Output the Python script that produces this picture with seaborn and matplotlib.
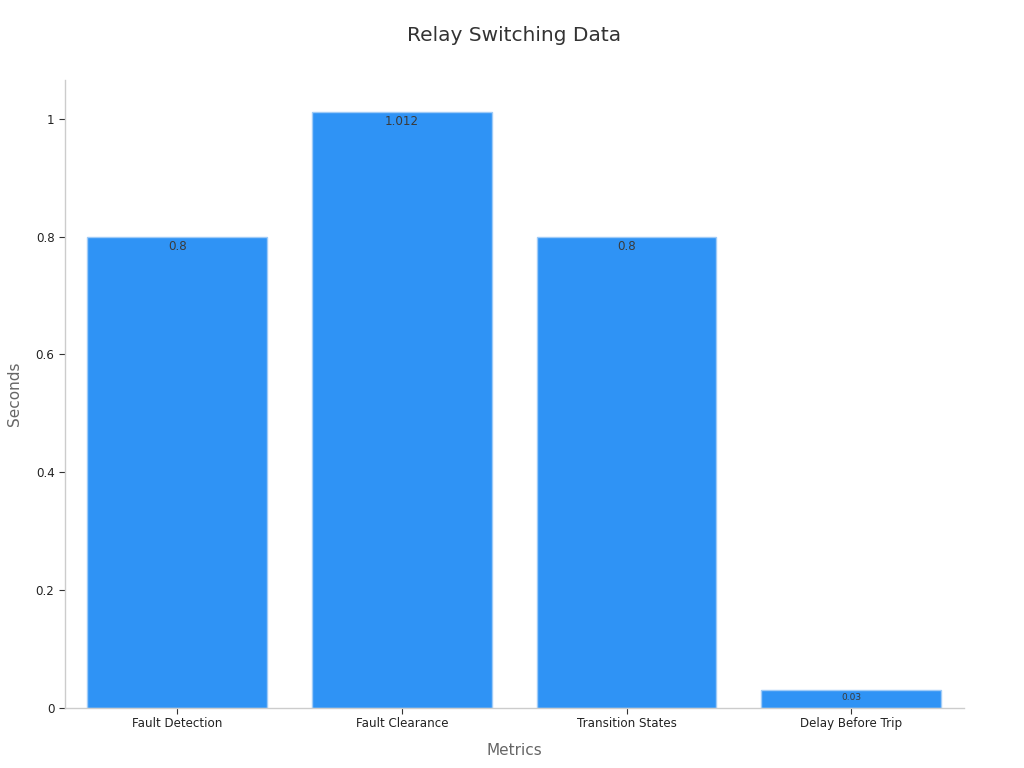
import matplotlib
matplotlib.use("Agg")
import matplotlib.pyplot as plt
import seaborn as sns
import pandas as pd
from matplotlib.ticker import FuncFormatter

# Data
metrics = ["Fault Detection", "Fault Clearance", "Transition States", "Delay Before Trip"]
seconds = [0.8, 1.012, 0.8, 0.03]

df = pd.DataFrame({"Metrics": metrics, "Seconds": seconds})

sns.set_style("white")
plt.rcParams["font.family"] = ["DejaVu Sans"]

fig = plt.figure(figsize=(10.24, 7.68), dpi=100)
ax = fig.add_axes([0.0635, 0.078, 0.8775, 0.818])

sns.barplot(
    data=df,
    x="Metrics",
    y="Seconds",
    color="#2F93F5",
    saturation=1,
    width=0.8,
    edgecolor="#9FCBF7",
    linewidth=1,
    ax=ax,
)

ax.set_xlim(-0.5, 3.5)
ax.set_ylim(0, 1.066)
ax.set_yticks([0, 0.2, 0.4, 0.6, 0.8, 1.0])
ax.yaxis.set_major_formatter(FuncFormatter(lambda v, p: f"{v:g}"))

# Value labels inside bar tops
for i, v in enumerate(seconds):
    size = 6.5 if v < 0.1 else 8.6
    ax.text(i, v - 0.005, f"{v:g}", ha="center", va="top",
            fontsize=size, color="#3a3a3a")

ax.set_title("Relay Switching Data", fontsize=14.5, color="#333333", pad=28)
ax.set_xlabel("Metrics", fontsize=11, color="#666666", labelpad=9)
ax.set_ylabel("Seconds", fontsize=11, color="#666666", labelpad=10)

for s in ["top", "right"]:
    ax.spines[s].set_visible(False)
for s in ["left", "bottom"]:
    ax.spines[s].set_color("#CCCCCC")
    ax.spines[s].set_linewidth(1)

ax.tick_params(axis="both", which="major", length=4, color="#333333",
               labelsize=8.6, labelcolor="#222222", bottom=True, left=True)
ax.tick_params(axis="x", pad=2.5)

fig.savefig("out.png", dpi=100)
